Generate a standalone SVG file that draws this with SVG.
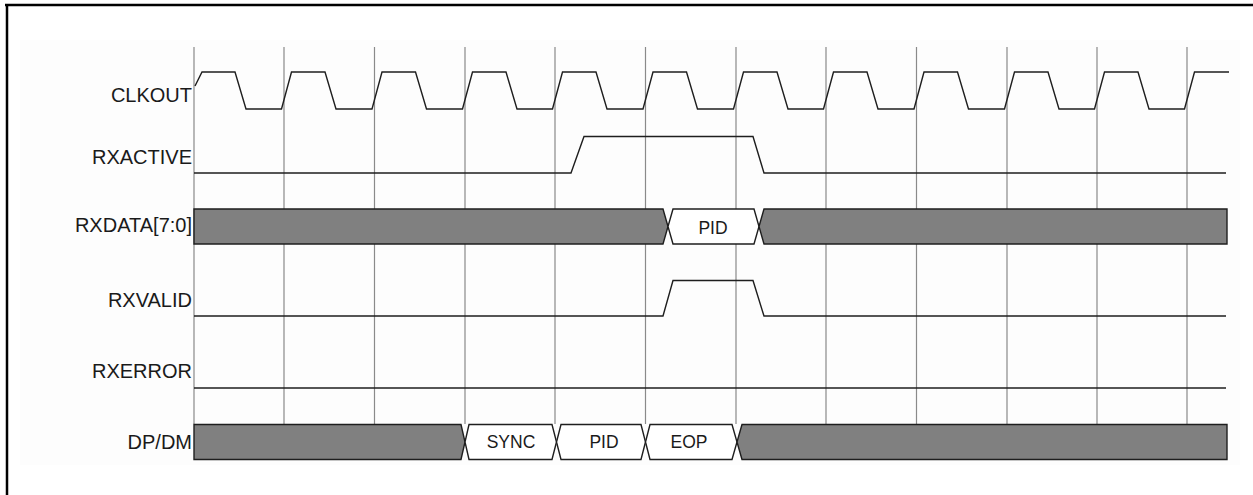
<svg xmlns="http://www.w3.org/2000/svg" width="1253" height="495" viewBox="0 0 1253 495">
<style>
.lbl{font-family:"Liberation Sans",Arial,sans-serif;font-size:20px;fill:#1a1a1a;text-anchor:end}
.bt{font-family:"Liberation Sans",Arial,sans-serif;font-size:17.5px;fill:#1a1a1a;text-anchor:middle}
.grid{stroke:#8a8a8a;stroke-width:1.2;fill:none}
.wave{stroke:#1e1e1e;stroke-width:1.4;fill:none;stroke-linejoin:miter}
.busg{fill:#808080;stroke:#1e1e1e;stroke-width:1.4}
.busw{fill:#ffffff;stroke:#1e1e1e;stroke-width:1.4}
</style>
<rect x="0" y="0" width="1253" height="495" fill="#ffffff"/>
<rect x="20" y="40" width="1220" height="425" fill="#fdfdfd"/>
<line x1="5" y1="5" x2="1253" y2="5" stroke="#000" stroke-width="2.5"/>
<line x1="7" y1="4" x2="7" y2="495" stroke="#000" stroke-width="2.5"/>
<g id="grid">
<path class="grid" d="M194,47V424 M284,47V424 M374.5,47V424 M465,47V424 M555,47V424 M645.5,47V424 M736,47V424 M826,47V424 M916.5,47V424 M1007,47V424 M1097,47V424 M1187,47V424"/>
</g>
<g id="labels">
<text class="lbl" x="192" y="101.5">CLKOUT</text>
<text class="lbl" x="192" y="164">RXACTIVE</text>
<text class="lbl" x="192" y="231.5">RXDATA[7:0]</text>
<text class="lbl" x="192" y="307">RXVALID</text>
<text class="lbl" x="192" y="378">RXERROR</text>
<text class="lbl" x="192" y="449">DP/DM</text>
</g>
<g id="clkout">
<path class="wave" d="M195,86 L202,72 L235,72 L246,109 L281.5,109 L291.5,72 L325,72 L336,109 L372,109 L382,72 L415.5,72 L426.5,109 L462.5,109 L472.5,72 L506,72 L517,109 L552.5,109 L562.5,72 L596,72 L607,109 L643,109 L653,72 L686.5,72 L697.5,109 L733.5,109 L743.5,72 L777,72 L788,109 L823.5,109 L833.5,72 L867,72 L878,109 L914,109 L924,72 L957.5,72 L968.5,109 L1004.5,109 L1014.5,72 L1048,72 L1059,109 L1094.5,109 L1104.5,72 L1138,72 L1149,109 L1184.5,109 L1194.5,72 L1229,72"/>
</g>
<g id="rxactive">
<path class="wave" d="M194,173 L571,173 L584,136.5 L753,136.5 L764,173 L1226,173"/>
</g>
<g id="rxdata">
<path class="busg" d="M194,209 L663,209 L668,226.5 L663,244 L194,244 Z"/>
<path class="busw" d="M673,209 L754,209 L759,226.5 L754,244 L673,244 L668,226.5 Z"/>
<path class="busg" d="M764,209 L1227,209 L1227,244 L764,244 L759,226.5 Z"/>
<text class="bt" x="713" y="233.5">PID</text>
</g>
<g id="rxvalid">
<path class="wave" d="M194,316 L663,316 L673,280.5 L753,280.5 L764,316 L1226,316"/>
</g>
<g id="rxerror">
<path class="wave" d="M194,388 L1226,388"/>
</g>
<g id="dpdm">
<path class="busg" d="M194,424.5 L461,424.5 L465,442 L461,459.5 L194,459.5 Z"/>
<path class="busw" d="M469,424.5 L552,424.5 L556.5,442 L552,459.5 L469,459.5 L465,442 Z"/>
<path class="busw" d="M561,424.5 L641,424.5 L645.5,442 L641,459.5 L561,459.5 L556.5,442 Z"/>
<path class="busw" d="M650,424.5 L732,424.5 L737,442 L732,459.5 L650,459.5 L645.5,442 Z"/>
<path class="busg" d="M742,424.5 L1227,424.5 L1227,459.5 L742,459.5 L737,442 Z"/>
<text class="bt" x="511" y="447.5">SYNC</text>
<text class="bt" x="604" y="447.5">PID</text>
<text class="bt" x="689" y="447.5">EOP</text>
</g>
</svg>
